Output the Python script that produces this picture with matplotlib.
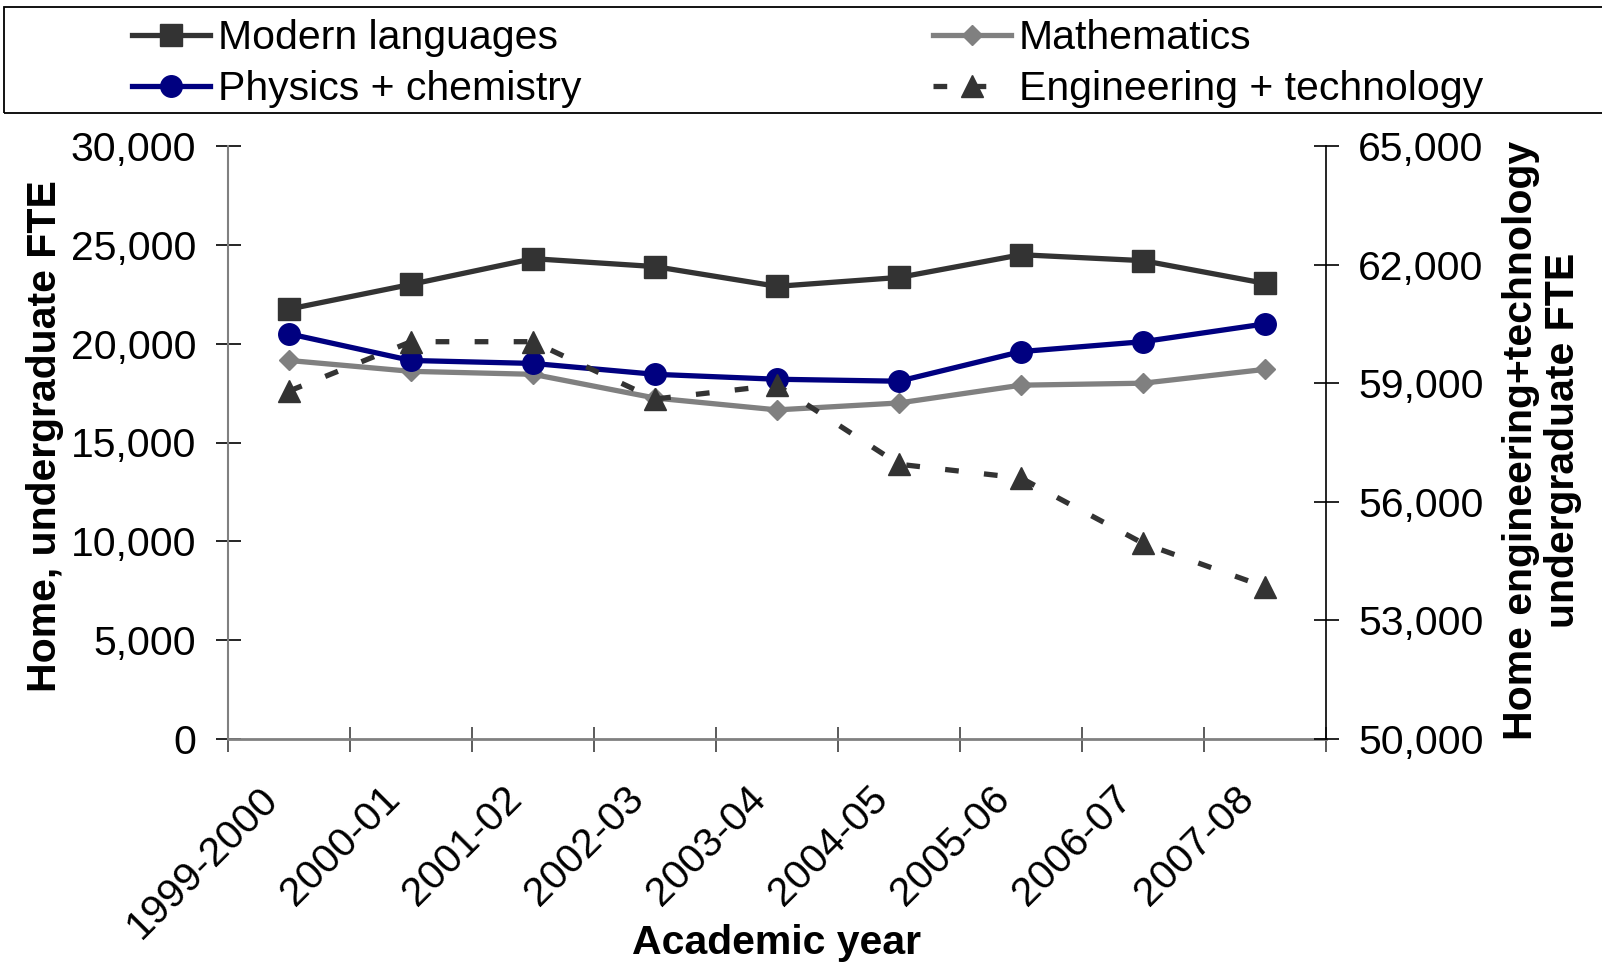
import matplotlib
matplotlib.use("Agg")
import matplotlib.pyplot as plt
import numpy as np
from matplotlib.patches import Rectangle
from matplotlib.ticker import FuncFormatter
from matplotlib.transforms import ScaledTranslation

# Academic years and home undergraduate FTE by subject
years = ["1999-2000", "2000-01", "2001-02", "2002-03", "2003-04",
         "2004-05", "2005-06", "2006-07", "2007-08"]
modern_languages = [21750, 23000, 24300, 23900, 22900, 23350, 24500, 24200, 23050]
mathematics = [19150, 18600, 18450, 17250, 16650, 17000, 17900, 18000, 18700]
physics_chemistry = [20500, 19150, 19000, 18450, 18200, 18100, 19600, 20100, 21000]
engineering_technology = [58800, 60050, 60050, 58600, 58950, 56950, 56600, 54950, 53850]

left_ticks = list(range(0, 30001, 5000))
right_ticks = list(range(50000, 65001, 3000))

plt.rcParams["font.family"] = ["Liberation Sans", "DejaVu Sans"]

W, H = 1602, 967
FS = 29.5
fig = plt.figure(figsize=(W / 100, H / 100), dpi=100)
fig.patch.set_facecolor("white")

ax = fig.add_axes([228 / W, 1 - 739 / H, 1098 / W, 593 / H])
x = np.arange(len(years))

l_ml, = ax.plot(x, modern_languages, color="#333333", lw=3.8, marker="s", ms=15.5,
                label="Modern languages")
l_ma, = ax.plot(x, mathematics, color="#808080", lw=3.8, marker="D", ms=10.5,
                label="Mathematics")
l_pc, = ax.plot(x, physics_chemistry, color="#000080", lw=3.8, marker="o", ms=15.5,
                label="Physics + chemistry")

ax2 = ax.twinx()
l_en, = ax2.plot(x, engineering_technology, color="#333333", lw=3.8,
                 ls=(0, (2.6, 4.8)), marker="^", ms=15.5,
                 label="Engineering + technology")

ax.set_xlim(-0.5, len(years) - 0.5)
ax.set_ylim(0, 30000)
ax2.set_ylim(50000, 65000)
ax.set_yticks(left_ticks)
ax2.set_yticks(right_ticks)
fmt = FuncFormatter(lambda v, p: f"{v:,.0f}")
ax.yaxis.set_major_formatter(fmt)
ax2.yaxis.set_major_formatter(fmt)

# category labels centred between boundary ticks
ax.set_xticks(x)
ax.set_xticks(np.arange(-0.5, len(years)), minor=True)
ax.tick_params(axis="x", which="major", length=0, labelsize=FS, pad=46)
ax.tick_params(axis="x", which="minor", direction="inout", length=18, width=1.2,
               color="#404040")
ax.tick_params(axis="y", direction="inout", length=18, width=1.2, color="black",
               labelsize=FS, pad=14)
ax2.tick_params(axis="y", direction="inout", length=18, width=1.2, color="black",
                labelsize=FS, pad=14)
ax.set_xticklabels(years, rotation=45, ha="right", va="center", rotation_mode="anchor")
shift = ScaledTranslation(-17 / 100, 10 / 100, fig.dpi_scale_trans)
for lbl in ax.get_xticklabels():
    lbl.set_transform(lbl.get_transform() + shift)

for s in ("top", "right"):
    ax.spines[s].set_visible(False)
for s in ("top", "left", "bottom"):
    ax2.spines[s].set_visible(False)
ax.spines["left"].set_color("#808080")
ax.spines["left"].set_linewidth(1.5)
ax.spines["bottom"].set_color("#808080")
ax.spines["bottom"].set_linewidth(2)
ax2.spines["right"].set_color("black")
ax2.spines["right"].set_linewidth(1.2)

# axis titles
fig.text(45 / W, 1 - 436 / H, "Home, undergraduate FTE", rotation=90,
         ha="center", va="center", fontsize=FS, fontweight="bold")
fig.text(1542 / W, 1 - 440 / H, "Home engineering+technology\nundergraduate FTE",
         rotation=90, ha="center", va="center", multialignment="center",
         fontsize=FS, fontweight="bold", linespacing=1.15)
fig.text(777 / W, 1 - 943 / H, "Academic year", ha="center", va="center",
         fontsize=FS, fontweight="bold")

# legend frame and two legend columns
fig.patches.append(Rectangle((4 / W, 1 - 113 / H), 1610 / W, 106 / H,
                             transform=fig.transFigure, fill=False,
                             ec="black", lw=1.3))
leg_kw = dict(frameon=False, fontsize=FS, handlelength=1.9, handletextpad=0.2,
              borderpad=0, borderaxespad=0, labelspacing=0.32, numpoints=1,
              loc="upper left")
fig.legend([l_ml, l_pc], ["Modern languages", "Physics + chemistry"],
           bbox_to_anchor=(132 / W, 1 - 19 / H), **leg_kw)
fig.legend([l_ma, l_en], ["Mathematics", "Engineering + technology"],
           bbox_to_anchor=(933 / W, 1 - 19 / H), **leg_kw)

fig.savefig("out.png", dpi=100, facecolor="white")
